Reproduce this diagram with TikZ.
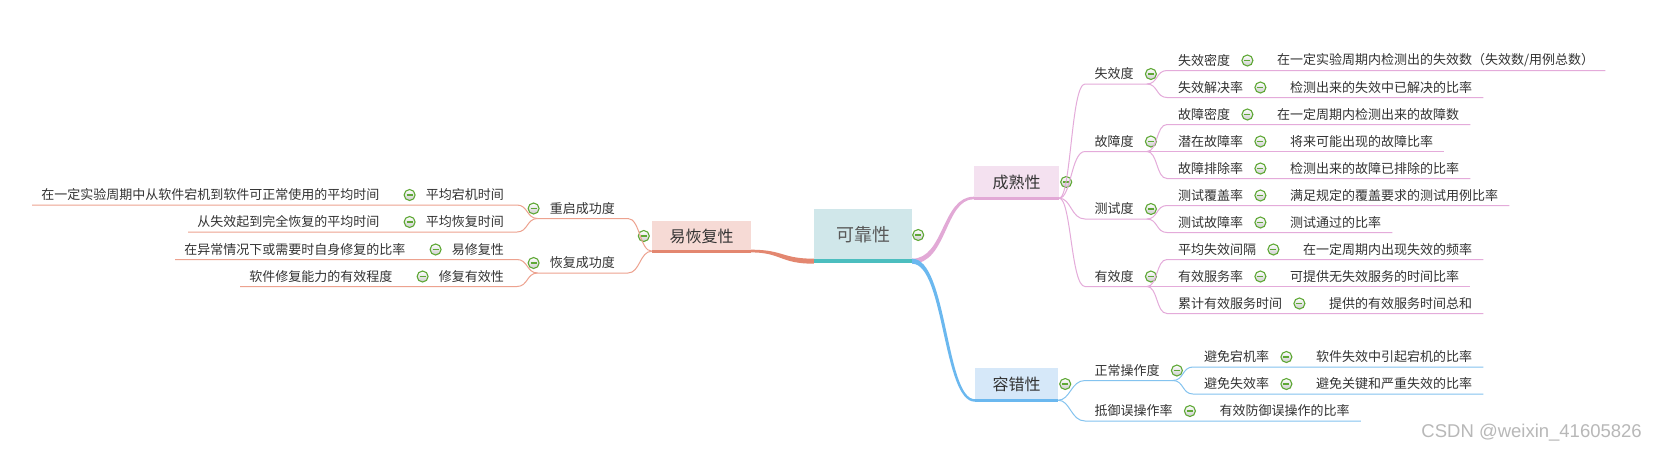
\documentclass[tikz,border=0pt]{standalone}
\usepackage{fontspec}
\setmainfont{Noto Sans CJK SC}
\newfontfamily\wmfont{Liberation Sans}
\usetikzlibrary{calc}
\definecolor{txt}{HTML}{333333}
\definecolor{mmgreen}{HTML}{5FA836}
\definecolor{rootfill}{HTML}{D0E7EA}
\definecolor{rootline}{HTML}{4CBEBF}
\definecolor{ahfill}{HTML}{F6DAD5}
\definecolor{ahline}{HTML}{E38770}
\definecolor{ahthin}{HTML}{EDA28F}
\definecolor{mafill}{HTML}{F4E1F0}
\definecolor{maline}{HTML}{E2A9D6}
\definecolor{mathin}{HTML}{E4ABDA}
\definecolor{ftfill}{HTML}{D6E8F9}
\definecolor{ftline}{HTML}{6BB8EF}
\definecolor{ftthin}{HTML}{84C3EF}
\definecolor{wmgray}{HTML}{B8B8B8}
% right leaf: id, y, label, desc, label x, parent junction, style
\newcommand\mmR[7]{%
  \node[lbl,anchor=west] (#1) at (#5,#2) {#3};
  \node[minus] (#1c) at ($(#1.east)+(17,0)$) {};
  \node[lbl,anchor=west] (#1d) at ($(#1c)+(29.5,0)$) {#4};
  \coordinate (#1s) at ($(#1.west)+(-11,10)$);
  \coordinate (#1e) at ($(#1d.east)+(11,10)$);
  \draw[#7] (#6) .. controls ($(#6)+(11,0)$) and ($(#1s)+(-11,0)$) .. (#1s) -- (#1e);
}
% left leaf: id, y, label, desc, label east x, parent junction, style
\newcommand\mmL[7]{%
  \node[lbl,anchor=east] (#1) at (#5,#2) {#3};
  \node[minus] (#1c) at ($(#1.west)+(-16,0)$) {};
  \node[lbl,anchor=east] (#1d) at ($(#1c)+(-30,0)$) {#4};
  \coordinate (#1s) at ($(#1.east)+(13,10)$);
  \coordinate (#1e) at ($(#1d.west)+(-9,10)$);
  \draw[#7] (#6) .. controls ($(#6)+(-11,0)$) and ($(#1s)+(11,0)$) .. (#1s) -- (#1e);
}
% right level two: id, y, label, from, style
\newcommand\mmRtwo[5]{%
  \node[lbl,anchor=west] (#1) at (1094.5,#2) {#3};
  \node[minus] (#1c) at ($(#1.east)+(17,0)$) {};
  \coordinate (#1j) at ($(#1c)+(-4,10)$);
  \coordinate (#1s) at ($(#1.west)+(-9.5,10)$);
  \draw[#5] (#4) .. controls ($(#4)+(12,0)$) and ($(#1s)+(-14,0)$) .. (#1s) -- (#1j);
}
% left level two: id, y, label, from, style
\newcommand\mmLtwo[5]{%
  \node[lbl,anchor=east] (#1) at (615,#2) {#3};
  \node[minus] (#1c) at ($(#1.west)+(-16,0)$) {};
  \coordinate (#1j) at ($(#1c)+(4,10)$);
  \coordinate (#1s) at ($(#1.east)+(13,10)$);
  \draw[#5] (#4) .. controls ($(#4)+(-12,0)$) and ($(#1s)+(12,0)$) .. (#1s) -- (#1j);
}
\begin{document}
\begin{tikzpicture}[x=1pt,y=-1pt,
  lbl/.style={font=\fontsize{13}{15}\selectfont, text=txt, inner sep=0pt},
  minus/.style={circle, draw=mmgreen, line width=1.1pt, top color=white, bottom color=black!20,
    minimum size=11pt, inner sep=0pt,
    path picture={\draw[mmgreen, line width=1.3pt]
      ($(path picture bounding box.center)+(-3,0)$) -- ($(path picture bounding box.center)+(3,0)$);}},
  topic/.style={inner sep=0pt, text=txt, font=\fontsize{16}{19}\selectfont},
  thinA/.style={draw=ahthin, line width=1pt},
  thinM/.style={draw=mathin, line width=1pt},
  thinF/.style={draw=ftthin, line width=1pt}]
\useasboundingbox (0,0) rectangle (1657,451);
\fill[white] (0,0) rectangle (1657,451);

% ---------- central and main topics ----------
\node[topic, fill=rootfill, minimum width=98, minimum height=52, font=\fontsize{18}{21}\selectfont, text=black!65] (root) at (863,235) {可靠性};
\draw[rootline, line width=3.5pt] (root.south west) -- (root.south east);
\node[minus] (rootc) at ($(root.east)+(6,0)$) {};

\node[topic, fill=ahfill, minimum width=99, minimum height=30] (ah) at (701.5,236) {易恢复性};
\draw[ahline, line width=3pt] (ah.south west) -- (ah.south east);
\node[minus] (ahc) at ($(ah.west)+(-8,0)$) {};

\node[topic, fill=mafill, minimum width=85, minimum height=32] (ma) at (1016.5,182) {成熟性};
\draw[maline, line width=3pt] (ma.south west) -- (ma.south east);
\node[minus] (mac) at ($(ma.east)+(7,0)$) {};

\node[topic, fill=ftfill, minimum width=83, minimum height=32] (ft) at (1016.5,384) {容错性};
\draw[ftline, line width=3pt] (ft.south west) -- (ft.south east);
\node[minus] (ftc) at ($(ft.east)+(7,0)$) {};

% ---------- thick tapered branches from the centre ----------
\fill[maline] ($(root.south east)+(0,-2.5)$) .. controls ($(root.south east)+(32,-2.5)$) and ($(ma.south west)+(-32,-1.5)$) .. ($(ma.south west)+(0,-1.5)$)
  -- ($(ma.south west)+(0,1)$) .. controls ($(ma.south west)+(-29,1)$) and ($(root.south east)+(35,2.5)$) .. ($(root.south east)+(0,2.5)$) -- cycle;
\fill[ftline] ($(root.south east)+(0,-2.5)$) .. controls ($(root.south east)+(35,-2.5)$) and ($(ft.south west)+(-29,-1)$) .. ($(ft.south west)+(0,-1)$)
  -- ($(ft.south west)+(0,1.5)$) .. controls ($(ft.south west)+(-32,1.5)$) and ($(root.south east)+(32,2.5)$) .. ($(root.south east)+(0,2.5)$) -- cycle;
\fill[ahline] ($(root.south west)+(0,-2.5)$) .. controls ($(root.south west)+(-32,-2.5)$) and ($(ah.south east)+(32,-1.5)$) .. ($(ah.south east)+(0,-1.5)$)
  -- ($(ah.south east)+(0,1.2)$) .. controls ($(ah.south east)+(30,1.2)$) and ($(root.south west)+(-34,2.5)$) .. ($(root.south west)+(0,2.5)$) -- cycle;

% ---------- 成熟性 ----------
\mmRtwo{sxd}{74}{失效度}{ma.south east}{thinM}
\mmR{sxmd}{60.5}{失效密度}{在一定实验周期内检测出的失效数（失效数/用例总数）}{1178}{sxdj}{thinM}
\mmR{sxjj}{87.5}{失效解决率}{检测出来的失效中已解决的比率}{1178}{sxdj}{thinM}

\mmRtwo{gzd}{141.5}{故障度}{ma.south east}{thinM}
\mmR{gzmd}{114.5}{故障密度}{在一定周期内检测出来的故障数}{1178}{gzdj}{thinM}
\mmR{qzgz}{141.5}{潜在故障率}{将来可能出现的故障比率}{1178}{gzdj}{thinM}
\mmR{gzpc}{168.5}{故障排除率}{检测出来的故障已排除的比率}{1178}{gzdj}{thinM}

\mmRtwo{csd}{209}{测试度}{ma.south east}{thinM}
\mmR{csfg}{195.5}{测试覆盖率}{满足规定的覆盖要求的测试用例比率}{1178}{csdj}{thinM}
\mmR{csgz}{222.5}{测试故障率}{测试通过的比率}{1178}{csdj}{thinM}

\mmRtwo{yxd}{276.5}{有效度}{ma.south east}{thinM}
\mmR{pjsx}{249.5}{平均失效间隔}{在一定周期内出现失效的频率}{1178}{yxdj}{thinM}
\mmR{yxfw}{276.5}{有效服务率}{可提供无失效服务的时间比率}{1178}{yxdj}{thinM}
\mmR{ljfw}{303.5}{累计有效服务时间}{提供的有效服务时间总和}{1178}{yxdj}{thinM}

% ---------- 容错性 ----------
\mmRtwo{zcc}{370.5}{正常操作度}{ft.south east}{thinF}
\mmR{bmdj}{357}{避免宕机率}{软件失效中引起宕机的比率}{1204}{zccj}{thinF}
\mmR{bmsx}{384}{避免失效率}{避免关键和严重失效的比率}{1204}{zccj}{thinF}

\node[lbl,anchor=west] (dywc) at (1094.5,411) {抵御误操作率};
\node[minus] (dywcc) at ($(dywc.east)+(17,0)$) {};
\node[lbl,anchor=west] (dywcd) at ($(dywcc)+(29.5,0)$) {有效防御误操作的比率};
\coordinate (dywcs) at ($(dywc.west)+(-9.5,10)$);
\coordinate (dywce) at ($(dywcd.east)+(11,10)$);
\draw[thinF] (ft.south east) .. controls ($(ft.south east)+(12,0)$) and ($(dywcs)+(-14,0)$) .. (dywcs) -- (dywce);

% ---------- 易恢复性 ----------
\mmLtwo{cqcg}{208.5}{重启成功度}{ah.south west}{thinA}
\mmL{pjdj}{195}{平均宕机时间}{在一定实验周期中从软件宕机到软件可正常使用的平均时间}{504}{cqcgj}{thinA}
\mmL{pjhf}{222}{平均恢复时间}{从失效起到完全恢复的平均时间}{504}{cqcgj}{thinA}

\mmLtwo{hfcg}{263}{恢复成功度}{ah.south west}{thinA}
\mmL{yxf}{249.5}{易修复性}{在异常情况下或需要时自身修复的比率}{504}{hfcgj}{thinA}
\mmL{xfyx}{276.5}{修复有效性}{软件修复能力的有效程度}{504}{hfcgj}{thinA}

% ---------- watermark ----------
\node[font=\wmfont\fontsize{18.5}{21}\selectfont, text=wmgray, anchor=east, inner sep=0pt] (wm) at (1642,433) {CSDN @weixin\_41605826};
\end{tikzpicture}
\end{document}
